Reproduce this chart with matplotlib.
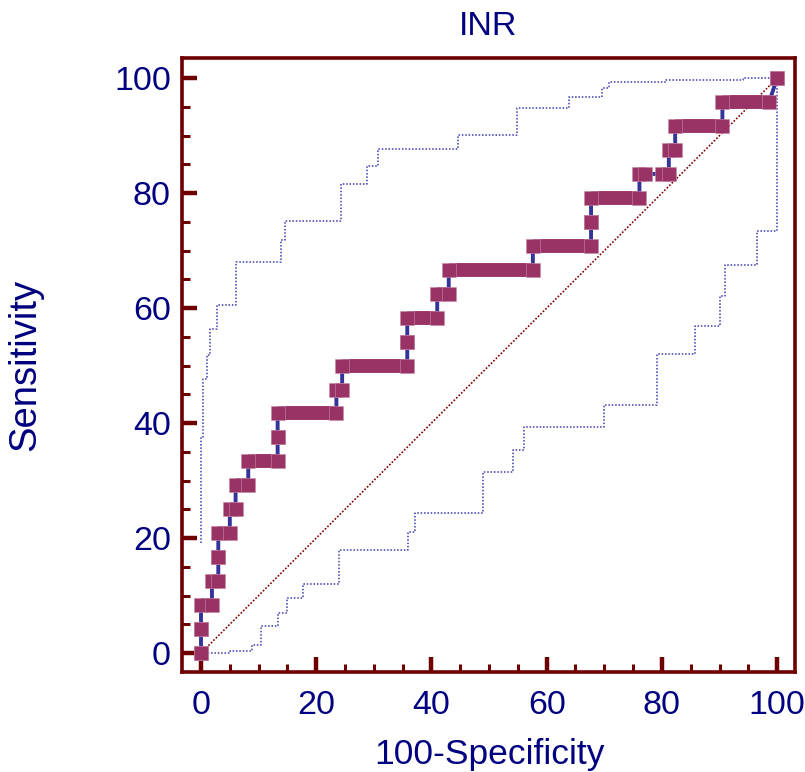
import numpy as np
import matplotlib
matplotlib.use("Agg")
import matplotlib.pyplot as plt

plt.rcParams['font.family'] = ['Liberation Sans', 'DejaVu Sans']

# ROC operating points, drawn as runs of square markers:
# sensitivity level, and 100-specificity where the run starts / ends
roc_sens = [0, 4.17, 8.33, 12.5, 16.67, 20.83, 25, 29.17, 33.33, 37.5, 41.67,
            45.83, 50, 54.17, 58.33, 62.5, 66.67, 70.83, 75, 79.17, 83.33,
            83.33, 87.5, 91.67, 95.83, 100]
roc_from = [0, 0, 0, 1.9, 3.0, 3.0, 5.0, 6.0, 8.2, 13.3, 13.3,
            23.5, 24.5, 35.8, 35.8, 41.0, 43.0, 57.6, 67.7, 67.7, 76.1,
            80.0, 81.2, 82.3, 90.5, 100]
roc_to = [0, 0, 1.9, 3.0, 3.0, 5.0, 6.0, 8.2, 13.3, 13.3, 23.5,
          24.5, 35.8, 35.8, 41.0, 43.0, 57.6, 67.7, 67.7, 76.1, 77.1,
          81.2, 82.3, 90.5, 98.6, 100]

# 95% confidence bounds (step curves)
upper_fpr = [0, 0.3, 1.0, 1.6, 2.8, 6.0, 13.9, 14.6, 24.3, 28.8, 30.8,
             44.6, 54.8, 63.9, 69.6, 70.8, 80.7, 94.1, 100]
upper_tpr = [19.1, 37.5, 47.6, 51.9, 56.3, 60.5, 68.1, 71.8, 75.1, 81.6, 84.7,
             87.6, 90.1, 94.8, 96.8, 98.3, 99.4, 99.7, 100]
lower_fpr = [0, 5.0, 8.9, 10.4, 13.4, 14.9, 17.7, 24.0, 36.0, 37.2, 49.0,
             54.2, 56.1, 70.0, 79.1, 85.8, 90.1, 91.0, 96.5, 100]
lower_tpr = [0, 0.35, 1.4, 4.75, 7.0, 9.6, 12.0, 17.9, 21.1, 24.4, 31.5,
             35.3, 39.3, 43.2, 52.1, 56.9, 62.1, 67.5, 73.4, 100]

frame_col = '#6e0000'
text_col = '#000080'
mark_col = '#993366'
line_col = '#333399'

fig = plt.figure(figsize=(8.05, 7.72), dpi=100)
ax = fig.add_axes([182 / 805, 1 - 672 / 772, 613 / 805, 614 / 772])

# chance line
ax.plot([0, 100], [0, 100], ls=(0, (1, 1.1)), lw=1.2, color='#800000', zorder=1)

# confidence bounds
ax.plot(upper_fpr, upper_tpr, drawstyle='steps-pre', ls=(0, (1, 1.2)), lw=1.1,
        color='#3a3ab0', zorder=1)
ax.plot(lower_fpr, lower_tpr, drawstyle='steps-post', ls=(0, (1, 1.2)), lw=1.1,
        color='#3a3ab0', zorder=1)

# connecting line through all runs
path_x, path_y = [], []
for s, a, b in zip(roc_sens, roc_from, roc_to):
    path_x += [a, b]
    path_y += [s, s]
ax.plot(path_x, path_y, color=line_col, lw=2.8, zorder=2, solid_capstyle='butt')

# marker runs
for s, a, b in zip(roc_sens, roc_from, roc_to):
    ax.plot([a, b], [s, s], color=mark_col, lw=10, solid_capstyle='butt', zorder=3)
    ax.plot([a, b], [s, s], ls='none', marker='s', markersize=10,
            markerfacecolor=mark_col, markeredgecolor='#c98aa8',
            markeredgewidth=0.4, zorder=3)

ax.set_xlim(-3.3, 103.1)
ax.set_ylim(-3.3, 103.5)

ax.set_xticks(np.arange(0, 101, 20))
ax.set_xticks(np.arange(0, 101, 5), minor=True)
ax.set_yticks(np.arange(0, 101, 20))
ax.set_yticks(np.arange(0, 101, 5), minor=True)

ax.tick_params(which='both', direction='in', colors=frame_col,
               labelcolor=text_col, labelsize=24.5, top=False, right=False)
ax.tick_params(which='major', length=11, width=3.2)
ax.tick_params(which='minor', length=5.5, width=2.2)
ax.tick_params(axis='x', which='major', pad=13)
ax.tick_params(axis='y', which='major', pad=8)

for sp in ax.spines.values():
    sp.set_color(frame_col)
    sp.set_linewidth(2.6)

ax.set_xlabel('100-Specificity', fontsize=25.5, color=text_col)
ax.xaxis.set_label_coords(0.502, -0.134)
ax.xaxis.label.set_va('center')
ax.set_ylabel('Sensitivity', fontsize=27.5, color=text_col)
ax.yaxis.set_label_coords(-0.255, 0.5)
ax.yaxis.label.set_va('center')

ax.text(0.5, 1.0505, 'INR', transform=ax.transAxes, ha='center', va='center',
        fontsize=24.5, color=text_col)

fig.savefig('out.png', dpi=100)
